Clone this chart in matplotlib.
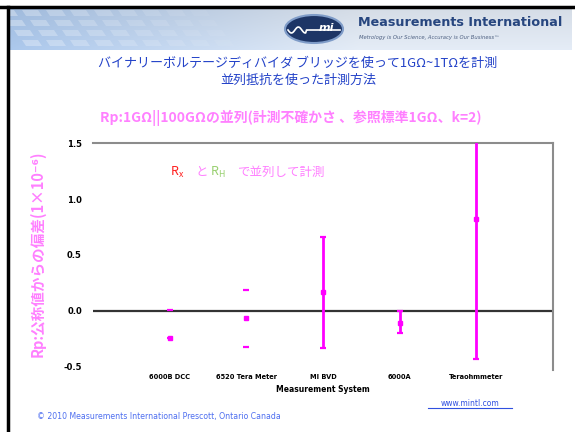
import numpy as np
import matplotlib
matplotlib.use("Agg")
import matplotlib.pyplot as plt
from matplotlib.patches import Ellipse, Polygon

plt.rcParams['font.family'] = ['Noto Sans CJK JP', 'DejaVu Sans']
plt.rcParams['mathtext.default'] = 'regular'

# ---- data ----
systems = ["6000B DCC", "6520 Tera Meter", "MI BVD", "6000A", "Teraohmmeter"]
deviation = [-0.24, -0.06, 0.17, -0.11, 0.82]          # ppm from nominal
err_low = [0.00, 0.26, 0.50, 0.09, 1.25]                # k=2 uncertainty (lower)
err_high = [0.245, 0.25, 0.49, 0.11, 1.25]              # k=2 uncertainty (upper)
yticks = [-0.5, 0.0, 0.5, 1.0, 1.5]
ytick_labels = ["-0.5", "0.0", "0.5", "1.0", "1.5"]

W, H = 575, 432
fig = plt.figure(figsize=(W / 100, H / 100), dpi=100)
fig.patch.set_facecolor("white")


def fx(px):
    return px / W


def fy(py):
    return 1 - py / H


# ---- banner ----
ban = fig.add_axes([fx(8), fy(50), fx(564), (50 - 8) / H])
ban.set_xlim(0, 564)
ban.set_ylim(42, 0)
ban.axis("off")
gx = np.linspace(0, 1, 300)
gy = np.linspace(0, 1, 40)
GX, GY = np.meshgrid(gx, gy)
c_left = np.array([0.66, 0.77, 0.91])
c_right = np.array([0.88, 0.91, 0.95])
t = np.clip(GX * 1.6, 0, 1)[..., None]
img = c_left * (1 - t) + c_right * t
img = img * (0.95 + 0.07 * GY[..., None])
ban.imshow(np.clip(img, 0, 1), extent=[0, 564, 42, 0], aspect="auto", zorder=0)
# diagonal tiles on the left
for row in range(4):
    for col in range(9):
        x0 = col * 24 + row * 8 - 10
        y0 = row * 10 + 2
        tile = Polygon([[x0, y0], [x0 + 16, y0], [x0 + 20, y0 + 6], [x0 + 4, y0 + 6]],
                       closed=True, facecolor="white", alpha=0.3 - col * 0.03, lw=0, zorder=1)
        ban.add_patch(tile)
ban.add_patch(Ellipse((306, 21), 58, 28, facecolor="#1d3566", edgecolor="#7f9cc8", lw=1.5, zorder=2))
wave_x = np.linspace(280, 332, 60)
wave_y = 22 + 3 * np.sin((wave_x - 280) / 2.2) * (wave_x < 298)
ban.plot(wave_x, wave_y, color="white", lw=1.2, zorder=3)
ban.text(318, 20, "mi", color="white", fontsize=8, fontweight="bold", style="italic",
         ha="center", va="center", family="DejaVu Sans", zorder=4)
ban.text(350, 15, "Measurements International", color="#27467f", fontsize=9.2,
         fontweight="bold", ha="left", va="center", family="DejaVu Sans", zorder=4)
ban.text(351, 29, "Metrology is Our Science, Accuracy is Our Business\u2122", color="#4d5f80",
         fontsize=3.8, style="italic", ha="left", va="center", family="DejaVu Sans", zorder=4)

# frame lines
fig.add_artist(plt.Line2D([fx(0), fx(575)], [fy(7), fy(7)], color="black", lw=2.5))
fig.add_artist(plt.Line2D([fx(8), fx(8)], [fy(7), fy(432)], color="black", lw=2.5))

# ---- headings ----
blue = "#2342c8"
fig.text(fx(298), fy(63), "バイナリーボルテージディバイダ ブリッジを使って1GΩ~1TΩを計測",
         color=blue, fontsize=9.4, ha="center", va="center")
fig.text(fx(298), fy(80), "並列抵抗を使った計測方法", color=blue, fontsize=9.4,
         ha="center", va="center")

pink = "#ff80ff"
fig.text(fx(291), fy(118), "Rp:1GΩ||100GΩの並列(計測不確かさ 、参照標準1GΩ、k=2)",
         color=pink, fontsize=10, fontweight="bold", ha="center", va="center")

# ---- chart ----
ax = fig.add_axes([fx(93), fy(367), fx(460), (367 - 143) / H])
x = np.arange(1, len(systems) + 1)
line_w = [0.0, 0.0, 2.0, 2.0, 2.0]
for xi, v, lo, hi, lw in zip(x, deviation, err_low, err_high, line_w):
    ax.errorbar([xi], [v], yerr=[[lo], [hi]], fmt="s", color="#ff00ff", ms=3,
                elinewidth=lw, capsize=2.5, capthick=1.6, zorder=3)
ax.axhline(0, color="#333333", lw=1.6, zorder=2)
ax.set_xlim(0, 6)
ax.set_ylim(-0.5, 1.5)
ax.set_yticks(yticks)
ax.set_yticklabels(ytick_labels, fontsize=6, fontweight="bold", family="DejaVu Sans")
ax.set_xticks(x)
ax.set_xticklabels(systems, fontsize=4.8, fontweight="bold", family="DejaVu Sans")
ax.tick_params(axis="x", length=0, pad=5)
ax.tick_params(axis="y", length=0, pad=8)
for side in ("left", "bottom"):
    ax.spines[side].set_visible(False)
for side in ("top", "right"):
    ax.spines[side].set_color("#8c8c8c")
    ax.spines[side].set_linewidth(1.5)
ax.spines["right"].set_bounds(-0.53, 1.5)
ax.set_xlabel("Measurement System", fontsize=5.5, fontweight="bold",
              family="DejaVu Sans", labelpad=4)

# y axis caption
fig.text(fx(38), fy(254), "Rp:公称値からの偏差(1×10⁻⁶)", color=pink, fontsize=10.5,
         fontweight="bold", rotation=90, ha="center", va="center",
         family=["Noto Sans CJK JP", "DejaVu Sans"])

# in-chart note: Rx と RH で並列して計測
fig.text(fx(170), fy(172), "R$_x$", color="#ff2020", fontsize=9, ha="left", va="center")
fig.text(fx(195), fy(172), "と", color=pink, fontsize=9, ha="left", va="center")
fig.text(fx(210), fy(172), "R$_H$", color="#99d070", fontsize=9, ha="left", va="center")
fig.text(fx(237), fy(172), "で並列して計測", color=pink, fontsize=9, ha="left", va="center")

# ---- footer ----
fig.text(fx(37), fy(417), "© 2010 Measurements International Prescott, Ontario Canada",
         color="#4d6ef0", fontsize=5.6, ha="left", va="center", family="DejaVu Sans")
fig.text(fx(470), fy(403), "www.mintl.com", color="#3050e0", fontsize=5.5,
         ha="center", va="center", family="DejaVu Sans")
fig.add_artist(plt.Line2D([fx(428), fx(512)], [fy(408), fy(408)], color="#3050e0", lw=0.8))

fig.savefig("out.png", dpi=100)
